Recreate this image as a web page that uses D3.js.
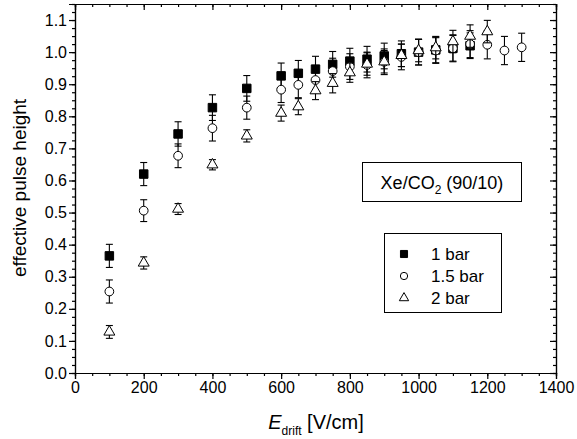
<!DOCTYPE html>
<html>
<head>
<meta charset="utf-8">
<script src="https://cdn.jsdelivr.net/npm/d3@7"></script>
<style>
body { margin: 0; background: #fff; }
text { font-family: "Liberation Sans", Arial, sans-serif; fill: #000; }
.axis path, .axis line { stroke: #000; stroke-width: 1.2; }
</style>
</head>
<body>
<div id="chart"></div>
<script>
// data
var field1 = [100, 200, 300, 400, 500, 600, 650, 700, 750, 800, 850, 900, 950, 1000, 1050, 1100, 1150];
var pulse1 = [0.365, 0.62, 0.745, 0.827, 0.887, 0.926, 0.934, 0.947, 0.962, 0.972, 0.978, 0.988, 0.995, 1.0, 1.007, 1.012, 1.02];
var err1 = [0.036, 0.036, 0.038, 0.04, 0.04, 0.04, 0.04, 0.04, 0.04, 0.04, 0.04, 0.04, 0.04, 0.04, 0.04, 0.04, 0.04];

var field15 = [100, 200, 300, 400, 500, 600, 650, 700, 750, 800, 850, 900, 950, 1000, 1050, 1100, 1150, 1200, 1250, 1300];
var pulse15 = [0.254, 0.506, 0.677, 0.763, 0.827, 0.883, 0.898, 0.913, 0.941, 0.955, 0.96, 0.97, 0.985, 1.0, 1.005, 1.012, 1.025, 1.023, 1.005, 1.015];
var err15 = [0.036, 0.034, 0.037, 0.04, 0.036, 0.04, 0.04, 0.04, 0.04, 0.04, 0.04, 0.04, 0.04, 0.04, 0.04, 0.042, 0.042, 0.044, 0.044, 0.044];

var field2 = [100, 200, 300, 400, 500, 600, 650, 700, 750, 800, 850, 900, 950, 1000, 1050, 1100, 1150, 1200];
var pulse2 = [0.128, 0.343, 0.511, 0.649, 0.739, 0.81, 0.83, 0.88, 0.903, 0.936, 0.963, 0.97, 0.99, 1.005, 1.014, 1.033, 1.05, 1.064];
var err2 = [0.02, 0.019, 0.017, 0.016, 0.019, 0.025, 0.025, 0.028, 0.03, 0.03, 0.035, 0.035, 0.035, 0.035, 0.035, 0.035, 0.035, 0.035];

var seriesNames = ["1 bar", "1.5 bar", "2 bar"];
var xTicks = [0, 200, 400, 600, 800, 1000, 1200, 1400];
var yTicks = [0.0, 0.1, 0.2, 0.3, 0.4, 0.5, 0.6, 0.7, 0.8, 0.9, 1.0, 1.1];

var svgWidth = 577;
var svgHeight = 439;
var margin = { top: 4, right: 21, bottom: 66, left: 75 };
var width = svgWidth - margin.left - margin.right;
var height = svgHeight - margin.top - margin.bottom;

var svg = d3.select("#chart")
    .append("svg")
    .attr("width", svgWidth)
    .attr("height", svgHeight);

var chartGroup = svg.append("g")
    .attr("transform", `translate(${margin.left}, ${margin.top})`);

var x = d3.scaleLinear().domain([0, 1400]).range([0, width]);
var y = d3.scaleLinear().domain([0, 1.15]).range([height, 0]);

var xMinor = d3.range(0, 1401, 50);
var yMinor = d3.range(0, 1.151, 0.025);

// bottom / left axes, ticks outward
chartGroup.append("g").attr("class", "axis")
    .attr("transform", `translate(0, ${height})`)
    .call(d3.axisBottom(x).tickValues(xMinor).tickSize(3).tickFormat(""));
chartGroup.append("g").attr("class", "axis")
    .attr("transform", `translate(0, ${height})`)
    .call(d3.axisBottom(x).tickValues(xTicks).tickSize(6).tickPadding(3).tickFormat(d3.format("d")))
    .selectAll("text").attr("font-size", "16px");

chartGroup.append("g").attr("class", "axis")
    .call(d3.axisLeft(y).tickValues(yMinor).tickSize(3).tickFormat(""));
chartGroup.append("g").attr("class", "axis")
    .call(d3.axisLeft(y).tickValues(yTicks).tickSize(6).tickPadding(2).tickFormat(d3.format(".1f")))
    .selectAll("text").attr("font-size", "16px");

// top / right mirror, ticks inward
chartGroup.append("g").attr("class", "axis")
    .call(d3.axisTop(x).tickValues(xMinor).tickSize(-3).tickFormat(""));
chartGroup.append("g").attr("class", "axis")
    .call(d3.axisTop(x).tickValues(xTicks).tickSize(-6).tickFormat(""));
chartGroup.append("g").attr("class", "axis")
    .attr("transform", `translate(${width}, 0)`)
    .call(d3.axisRight(y).tickValues(yMinor).tickSize(-3).tickFormat(""));
chartGroup.append("g").attr("class", "axis")
    .attr("transform", `translate(${width}, 0)`)
    .call(d3.axisRight(y).tickValues(yTicks).tickSize(-6).tickFormat(""));

chartGroup.selectAll(".axis .domain").attr("stroke-width", 1.3);

// symbols
var symSquare = d3.symbol().type(d3.symbolSquare).size(72);
var symCircle = d3.symbol().type(d3.symbolCircle).size(60);
var symTriangle = d3.symbol().type(d3.symbolTriangle).size(52);

var series = [
    { xs: field1, ys: pulse1, es: err1, sym: symSquare, fill: "#000" },
    { xs: field15, ys: pulse15, es: err15, sym: symCircle, fill: "#fff" },
    { xs: field2, ys: pulse2, es: err2, sym: symTriangle, fill: "#fff" }
];

series.forEach(function(s) {
    var pts = s.xs.map(function(d, i) { return { x: d, y: s.ys[i], e: s.es[i] }; });
    var g = chartGroup.append("g");
    var bars = g.selectAll(".err").data(pts).enter().append("g")
        .attr("stroke", "#000").attr("stroke-width", 1.1);
    bars.append("line")
        .attr("x1", d => x(d.x)).attr("x2", d => x(d.x))
        .attr("y1", d => y(d.y - d.e)).attr("y2", d => y(d.y + d.e));
    bars.append("line")
        .attr("x1", d => x(d.x) - 3.5).attr("x2", d => x(d.x) + 3.5)
        .attr("y1", d => y(d.y + d.e)).attr("y2", d => y(d.y + d.e));
    bars.append("line")
        .attr("x1", d => x(d.x) - 3.5).attr("x2", d => x(d.x) + 3.5)
        .attr("y1", d => y(d.y - d.e)).attr("y2", d => y(d.y - d.e));
    g.selectAll(".pt").data(pts).enter().append("path")
        .attr("d", s.sym)
        .attr("transform", d => `translate(${x(d.x)}, ${y(d.y)})`)
        .attr("fill", s.fill)
        .attr("stroke", "#000")
        .attr("stroke-width", 1);
});

// gas mixture label box
svg.append("rect")
    .attr("x", 362.5).attr("y", 162.5).attr("width", 159).attr("height", 39)
    .attr("fill", "#fff").attr("stroke", "#000").attr("stroke-width", 1);
var gasText = svg.append("text")
    .attr("x", 442).attr("y", 189)
    .attr("text-anchor", "middle")
    .attr("font-size", "18px");
gasText.append("tspan").text("Xe/CO");
gasText.append("tspan").attr("font-size", "12px").attr("dy", 5).text("2");
gasText.append("tspan").attr("dy", -5).text(" (90/10)");

// legend
svg.append("rect")
    .attr("x", 384.5).attr("y", 233.5).attr("width", 117).attr("height", 79)
    .attr("fill", "#fff").attr("stroke", "#000").attr("stroke-width", 1);
var legendSyms = [
    d3.symbol().type(d3.symbolSquare).size(50),
    d3.symbol().type(d3.symbolCircle).size(42),
    d3.symbol().type(d3.symbolTriangle).size(38)
];
var legendFills = ["#000", "#fff", "#fff"];
seriesNames.forEach(function(name, i) {
    var ly = 254 + i * 22;
    svg.append("path")
        .attr("d", legendSyms[i])
        .attr("transform", `translate(404, ${ly})`)
        .attr("fill", legendFills[i])
        .attr("stroke", "#000").attr("stroke-width", 1);
    svg.append("text")
        .attr("x", 431).attr("y", ly + 6)
        .attr("font-size", "17px")
        .text(name);
});

// axis titles
svg.append("text")
    .attr("transform", "translate(26, 188) rotate(-90)")
    .attr("text-anchor", "middle")
    .attr("font-size", "19px")
    .text("effective pulse height");

var xTitle = svg.append("text")
    .attr("x", 316).attr("y", 429)
    .attr("text-anchor", "middle")
    .attr("font-size", "20px");
xTitle.append("tspan").attr("font-style", "italic").text("E");
xTitle.append("tspan").attr("font-size", "12px").attr("dy", 6).text("drift");
xTitle.append("tspan").attr("dy", -6).text(" [V/cm]");
</script>
</body>
</html>
